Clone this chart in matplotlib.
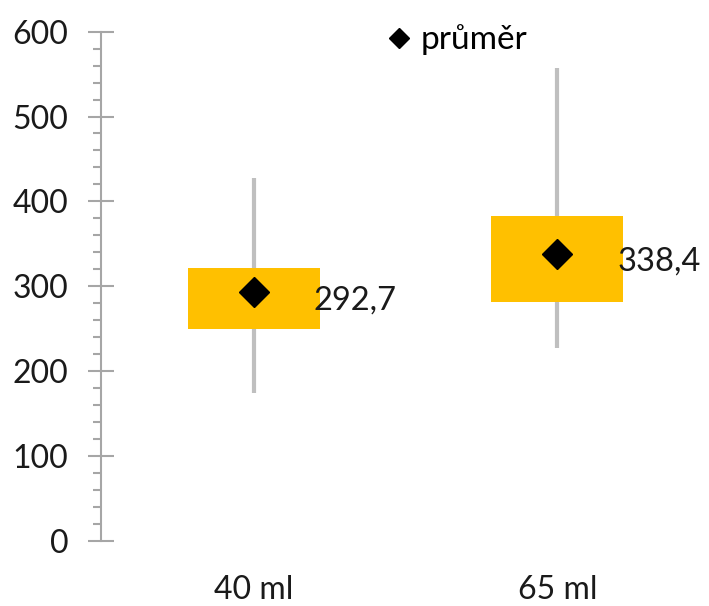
import matplotlib
matplotlib.use("Agg")
import matplotlib.pyplot as plt
from matplotlib.lines import Line2D
from matplotlib.ticker import MultipleLocator

categories = ['40 ml', '65 ml']
minimum = [173.8, 227.5]
q1 = [249.2, 281.0]
q3 = [321.1, 383.1]
maximum = [427.2, 556.9]
mean = [292.7, 338.4]
mean_labels = ['292,7', '338,4']
legend_label = 'průměr'

plt.rcParams['font.family'] = ['Lato', 'DejaVu Sans']

fig = plt.figure(figsize=(7.09, 6.06), dpi=100)
ax = fig.add_axes([101/709, 65.3/606, 608/709, 509/606])

x = list(range(len(categories)))
ax.vlines(x, minimum, maximum, color='#BFBFBF', lw=3, zorder=1)
ax.bar(x, [b - a for a, b in zip(q1, q3)], bottom=q1, width=0.435,
       color='#FFC000', zorder=2)
ax.plot(x, mean, linestyle='none', marker='D', ms=15.5, color='black', zorder=3)
for xi, m, lab in zip(x, mean, mean_labels):
    ax.annotate(lab, (xi, m), xytext=(43, -6), textcoords='offset points',
                ha='left', va='center', fontsize=23.5, color='#1a1a1a', zorder=4)

ax.set_xlim(-0.505, 1.5)
ax.set_ylim(0, 600)
ax.yaxis.set_major_locator(MultipleLocator(100))
ax.yaxis.set_minor_locator(MultipleLocator(20))
ax.set_xticks(x)
ax.set_xticklabels(categories)

for s in ['top', 'right', 'bottom']:
    ax.spines[s].set_visible(False)
ax.spines['left'].set_color('#A6A6A6')
ax.spines['left'].set_linewidth(1.5)

ax.tick_params(axis='y', which='major', direction='inout', length=18.7, width=1.5,
               color='#A6A6A6', labelsize=23, labelcolor='#1a1a1a', pad=14)
ax.tick_params(axis='y', which='minor', direction='out', length=6, width=1.5,
               color='#A6A6A6')
ax.tick_params(axis='x', length=0, labelsize=23, labelcolor='#1a1a1a', pad=25)

handle = Line2D([], [], linestyle='none', marker='D', ms=10, color='black')
fig.legend([handle], [legend_label], loc='center left',
           bbox_to_anchor=(386/709, 566/606), frameon=False, fontsize=24,
           handlelength=0.8, handletextpad=0.25, borderpad=0, borderaxespad=0)

fig.savefig('out.png', dpi=100)
